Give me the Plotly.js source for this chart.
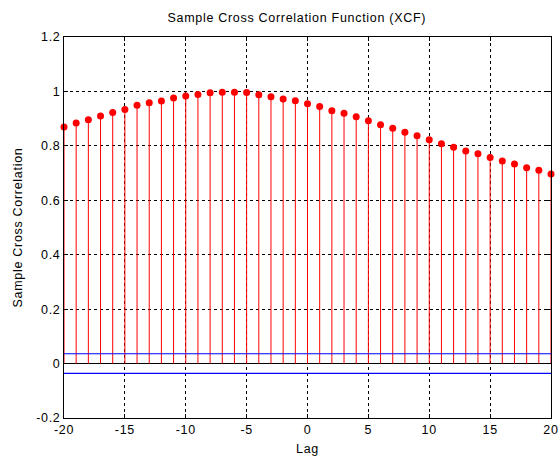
<!DOCTYPE html>
<html>
<head>
<meta charset="utf-8">
<script src="https://cdn.plot.ly/plotly-3.0.1.min.js"></script>
<style>
html,body{margin:0;padding:0;background:#fff;}
#chart svg text{letter-spacing:0.7px;}
</style>
</head>
<body>
<div id="chart" style="width:560px;height:456px;"></div>
<script>
const lags = [-20,-19,-18,-17,-16,-15,-14,-13,-12,-11,-10,-9,-8,-7,-6,-5,-4,-3,-2,-1,0,1,2,3,4,5,6,7,8,9,10,11,12,13,14,15,16,17,18,19,20];
const xcf = [0.869,0.884,0.896,0.910,0.923,0.934,0.949,0.958,0.965,0.976,0.983,0.989,0.995,0.997,0.997,0.996,0.988,0.980,0.972,0.966,0.955,
             0.945,0.929,0.920,0.907,0.892,0.878,0.865,0.850,0.837,0.822,0.808,0.795,0.781,0.771,0.757,0.744,0.733,0.720,0.710,0.697];
const confBound = 0.036;
const xTicks = [-20,-15,-10,-5,0,5,10,15,20];
const yTicks = [-0.2,0,0.2,0.4,0.6,0.8,1,1.2];

const font = {family: 'Liberation Sans, Arial, sans-serif', size: 12.5, color: '#000'};

const traces = [
  {
    x: lags, y: xcf, type: 'scatter', mode: 'markers',
    marker: {color: '#ff0000', size: 7},
    error_y: {type: 'data', symmetric: false, array: lags.map(() => 0), arrayminus: xcf, color: '#ff0000', thickness: 1, width: 0},
    cliponaxis: false, hoverinfo: 'x+y'
  },
  {x: [lags[0], lags[lags.length-1]], y: [confBound, confBound], type: 'scatter', mode: 'lines', line: {color: '#0000ff', width: 1.2}},
  {x: [lags[0], lags[lags.length-1]], y: [-confBound, -confBound], type: 'scatter', mode: 'lines', line: {color: '#0000ff', width: 1.2}}
];

const layout = {
  width: 560, height: 456,
  margin: {l: 64, r: 9, t: 37, b: 38},
  paper_bgcolor: '#fff', plot_bgcolor: '#fff',
  showlegend: false,
  font: font,
  title: {text: 'Sample Cross Correlation Function (XCF)', font: font, x: 0.53, xanchor: 'center', y: 0.962, yanchor: 'middle'},
  xaxis: {
    range: [-20, 20], tickvals: xTicks, ticktext: xTicks.map(String),
    showgrid: true, gridcolor: '#000', gridwidth: 1, griddash: '3px,3px',
    zeroline: false, showline: true, linecolor: '#000', linewidth: 1, mirror: 'ticks',
    ticks: 'inside', ticklen: 4, tickcolor: '#000',
    title: {text: 'Lag', font: font, standoff: 14},
    tickfont: font
  },
  yaxis: {
    range: [-0.2, 1.2], tickvals: yTicks, ticktext: yTicks.map(v => String(Math.round(v*10)/10)),
    showgrid: true, gridcolor: '#000', gridwidth: 1, griddash: '3px,3px',
    zeroline: true, zerolinecolor: '#000', zerolinewidth: 1,
    showline: true, linecolor: '#000', linewidth: 1, mirror: 'ticks',
    ticks: 'inside', ticklen: 4, tickcolor: '#000',
    title: {text: 'Sample Cross Correlation', font: font, standoff: 13},
    tickfont: font
  }
};

Plotly.newPlot('chart', traces, layout, {staticPlot: true});
</script>
</body>
</html>
